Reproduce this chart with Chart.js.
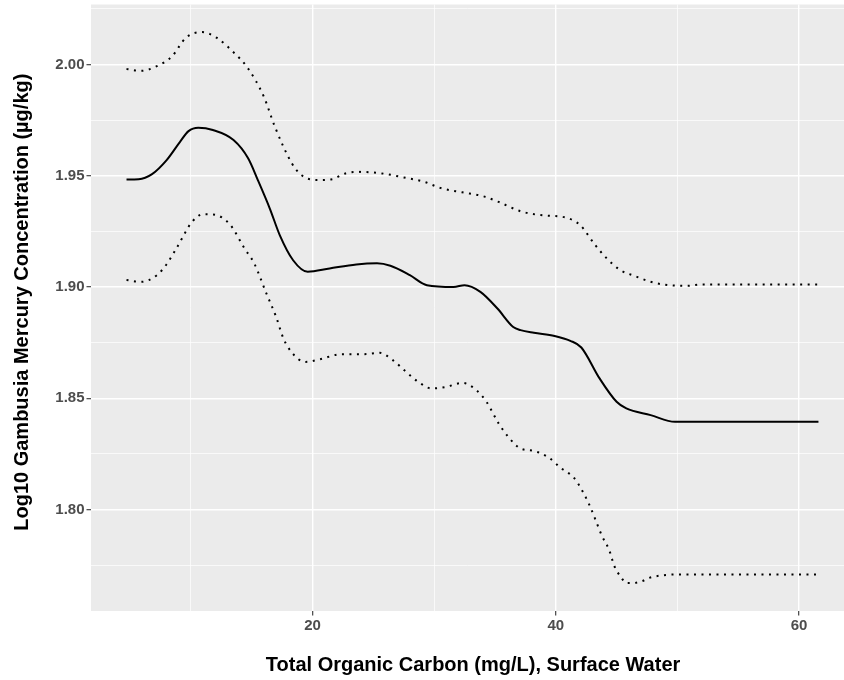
<!DOCTYPE html>
<html><head><meta charset="utf-8">
<script src="https://cdn.jsdelivr.net/npm/chart.js@4.4.1/dist/chart.umd.min.js"></script>
<style>html,body{margin:0;padding:0;background:#fff;}canvas{display:block;}</style>
</head><body>
<canvas id="c" width="844" height="680"></canvas>
<script>
// ---- data ----
const meanX = [4.7, 5.7, 6.8, 8.0, 9.1, 9.8, 10.6, 11.8, 13.5, 14.7, 15.5, 16.5, 17.3, 18.4, 19.6, 21.4, 23.6, 25.3, 26.4, 28.0, 29.4, 31.6, 32.5, 33.8, 35.2, 36.5, 37.1, 38.2, 39.9, 41.2, 42.1, 43.6, 45.0, 45.8, 47.8, 49.8, 55.0, 61.6];
const meanY = [1.9483, 1.9484, 1.9507, 1.9570, 1.9652, 1.9700, 1.9715, 1.9705, 1.9660, 1.9578, 1.9480, 1.9350, 1.9233, 1.9120, 1.9068, 1.9083, 1.9101, 1.9106, 1.9095, 1.9053, 1.9008, 1.9000, 1.9008, 1.8978, 1.8903, 1.8820, 1.8806, 1.8794, 1.8780, 1.8758, 1.8728, 1.8589, 1.8484, 1.8454, 1.8424, 1.8394, 1.8394, 1.8394];

const upperX = [4.7, 5.9, 7.2, 8.4, 9.6, 10.9, 12.1, 13.6, 14.6, 16.0, 16.9, 18.3, 19.1, 20.3, 21.6, 22.7, 23.9, 25.7, 27.5, 29.2, 30.5, 32.3, 34.0, 35.3, 37.1, 38.7, 40.8, 42.0, 43.2, 44.2, 45.3, 46.5, 47.8, 49.0, 50.8, 52.0, 61.6];
const upperY = [1.9979, 1.9971, 1.9992, 2.0034, 2.0120, 2.0145, 2.0120, 2.0049, 1.9989, 1.9854, 1.9720, 1.9555, 1.9502, 1.9480, 1.9484, 1.9510, 1.9517, 1.9510, 1.9492, 1.9472, 1.9445, 1.9425, 1.9408, 1.9382, 1.9340, 1.9323, 1.9312, 1.9278, 1.9191, 1.9128, 1.9076, 1.9049, 1.9023, 1.9010, 1.9005, 1.9011, 1.9011];

const lowerX = [4.7, 5.9, 7.2, 8.0, 8.8, 10.1, 11.0, 11.8, 13.2, 14.4, 15.2, 16.2, 17.0, 17.6, 18.3, 19.4, 20.6, 22.4, 24.2, 25.5, 26.6, 27.6, 28.7, 29.8, 31.0, 32.3, 33.4, 34.3, 35.3, 36.1, 37.1, 38.2, 39.4, 40.4, 41.5, 42.2, 42.8, 43.3, 43.8, 44.4, 44.8, 45.4, 45.8, 46.4, 47.1, 47.7, 48.9, 50.0, 61.6];
const lowerY = [1.9031, 1.9023, 1.9053, 1.9102, 1.9173, 1.9293, 1.9327, 1.9326, 1.9281, 1.9173, 1.9106, 1.8971, 1.8866, 1.8769, 1.8705, 1.8663, 1.8675, 1.8698, 1.8698, 1.8704, 1.8671, 1.8623, 1.8573, 1.8544, 1.8551, 1.8569, 1.8540, 1.8484, 1.8387, 1.8326, 1.8274, 1.8263, 1.8234, 1.8187, 1.8142, 1.8082, 1.8016, 1.7949, 1.7881, 1.7817, 1.7748, 1.7693, 1.7670, 1.7670, 1.7678, 1.7693, 1.7705, 1.7708, 1.7708];

const xMajorTicks = [20, 40, 60];
const xTickLabels = ['20', '40', '60'];
const xMinorTicks = [10, 30, 50];
const yMajorTicks = [1.80, 1.85, 1.90, 1.95, 2.00];
const yTickLabels = ['1.80', '1.85', '1.90', '1.95', '2.00'];
const yMinorTicks = [1.775, 1.825, 1.875, 1.925, 1.975, 2.025];

const xTitle = 'Total Organic Carbon (mg/L), Surface Water';
const yTitle = 'Log10 Gambusia Mercury Concentration (\u00B5g/kg)';

// ---- helpers ----
function pts(xs, ys) { return xs.map((x, i) => ({x: x, y: ys[i]})); }
function buildTicks(major, labels, minor) {
  const t = major.map((v, i) => ({value: v, isMajor: true, text: labels[i]}))
    .concat(minor.map(v => ({value: v, isMajor: false, text: ''})));
  t.sort((a, b) => a.value - b.value);
  return t;
}
const FAMILY = "'Liberation Sans', Arial, Helvetica, sans-serif";
const tickFont = ctx => (ctx.tick && ctx.tick.isMajor)
  ? {family: FAMILY, size: 15, weight: 'bold', lineHeight: 1.2}
  : {family: FAMILY, size: 1, lineHeight: 1};
const gridWidth = ctx => (ctx.tick && ctx.tick.isMajor) ? 1.4 : 0.7;
const gridTickColor = ctx => (ctx.tick && ctx.tick.isMajor) ? '#333333' : 'rgba(0,0,0,0)';

const panelBg = {
  id: 'panelBg',
  beforeDraw(chart) {
    const {ctx, chartArea: a} = chart;
    ctx.save();
    ctx.fillStyle = '#EBEBEB';
    ctx.fillRect(a.left, a.top, a.right - a.left, a.bottom - a.top);
    ctx.restore();
  }
};

const dotted = [2, 5.5];
const lead = '\u00A0\u00A0';

new Chart(document.getElementById('c'), {
  type: 'line',
  data: {
    datasets: [
      {label: 'upper', data: pts(upperX, upperY), borderColor: '#000', borderWidth: 2, borderDash: dotted, borderCapStyle: 'butt', pointRadius: 0, fill: false, cubicInterpolationMode: 'monotone'},
      {label: 'lower', data: pts(lowerX, lowerY), borderColor: '#000', borderWidth: 2, borderDash: dotted, borderCapStyle: 'butt', pointRadius: 0, fill: false, cubicInterpolationMode: 'monotone'},
      {label: 'mean', data: pts(meanX, meanY), borderColor: '#000', borderWidth: 2, pointRadius: 0, fill: false, cubicInterpolationMode: 'monotone'}
    ]
  },
  options: {
    responsive: false,
    animation: false,
    devicePixelRatio: 1,
    layout: {padding: {top: 4.5, right: 0, left: 0, bottom: 0}},
    plugins: {legend: {display: false}, tooltip: {enabled: false}},
    scales: {
      x: {
        type: 'linear', min: 1.78, max: 63.7,
        afterBuildTicks: s => { s.ticks = buildTicks(xMajorTicks, xTickLabels, xMinorTicks); },
        afterFit: s => { s.height = 69; },
        border: {display: false},
        grid: {color: '#FFFFFF', lineWidth: gridWidth, tickColor: gridTickColor, tickWidth: 1.1, tickLength: 4.5, drawTicks: true},
        ticks: {autoSkip: false, maxRotation: 0, minRotation: 0, padding: 1, color: '#4D4D4D', font: tickFont,
          callback: (v, i, t) => t[i].text},
        title: {display: true, text: lead + xTitle, color: '#000', font: {family: FAMILY, size: 20, weight: 'bold', lineHeight: 1.2}, padding: {top: 0, bottom: 3}}
      },
      y: {
        type: 'linear', min: 1.7544, max: 2.0269,
        afterBuildTicks: s => { s.ticks = buildTicks(yMajorTicks, yTickLabels, yMinorTicks); },
        afterFit: s => { s.width = 91; },
        border: {display: false},
        grid: {color: '#FFFFFF', lineWidth: gridWidth, tickColor: gridTickColor, tickWidth: 1.1, tickLength: 4.5, drawTicks: true},
        ticks: {autoSkip: false, padding: 2, color: '#4D4D4D', font: tickFont,
          callback: (v, i, t) => t[i].text},
        title: {display: true, text: lead + yTitle, color: '#000', font: {family: FAMILY, size: 20, weight: 'bold', lineHeight: 1.2}, padding: {top: 10, bottom: 0}}
      }
    }
  },
  plugins: [panelBg]
});
</script>
</body></html>
